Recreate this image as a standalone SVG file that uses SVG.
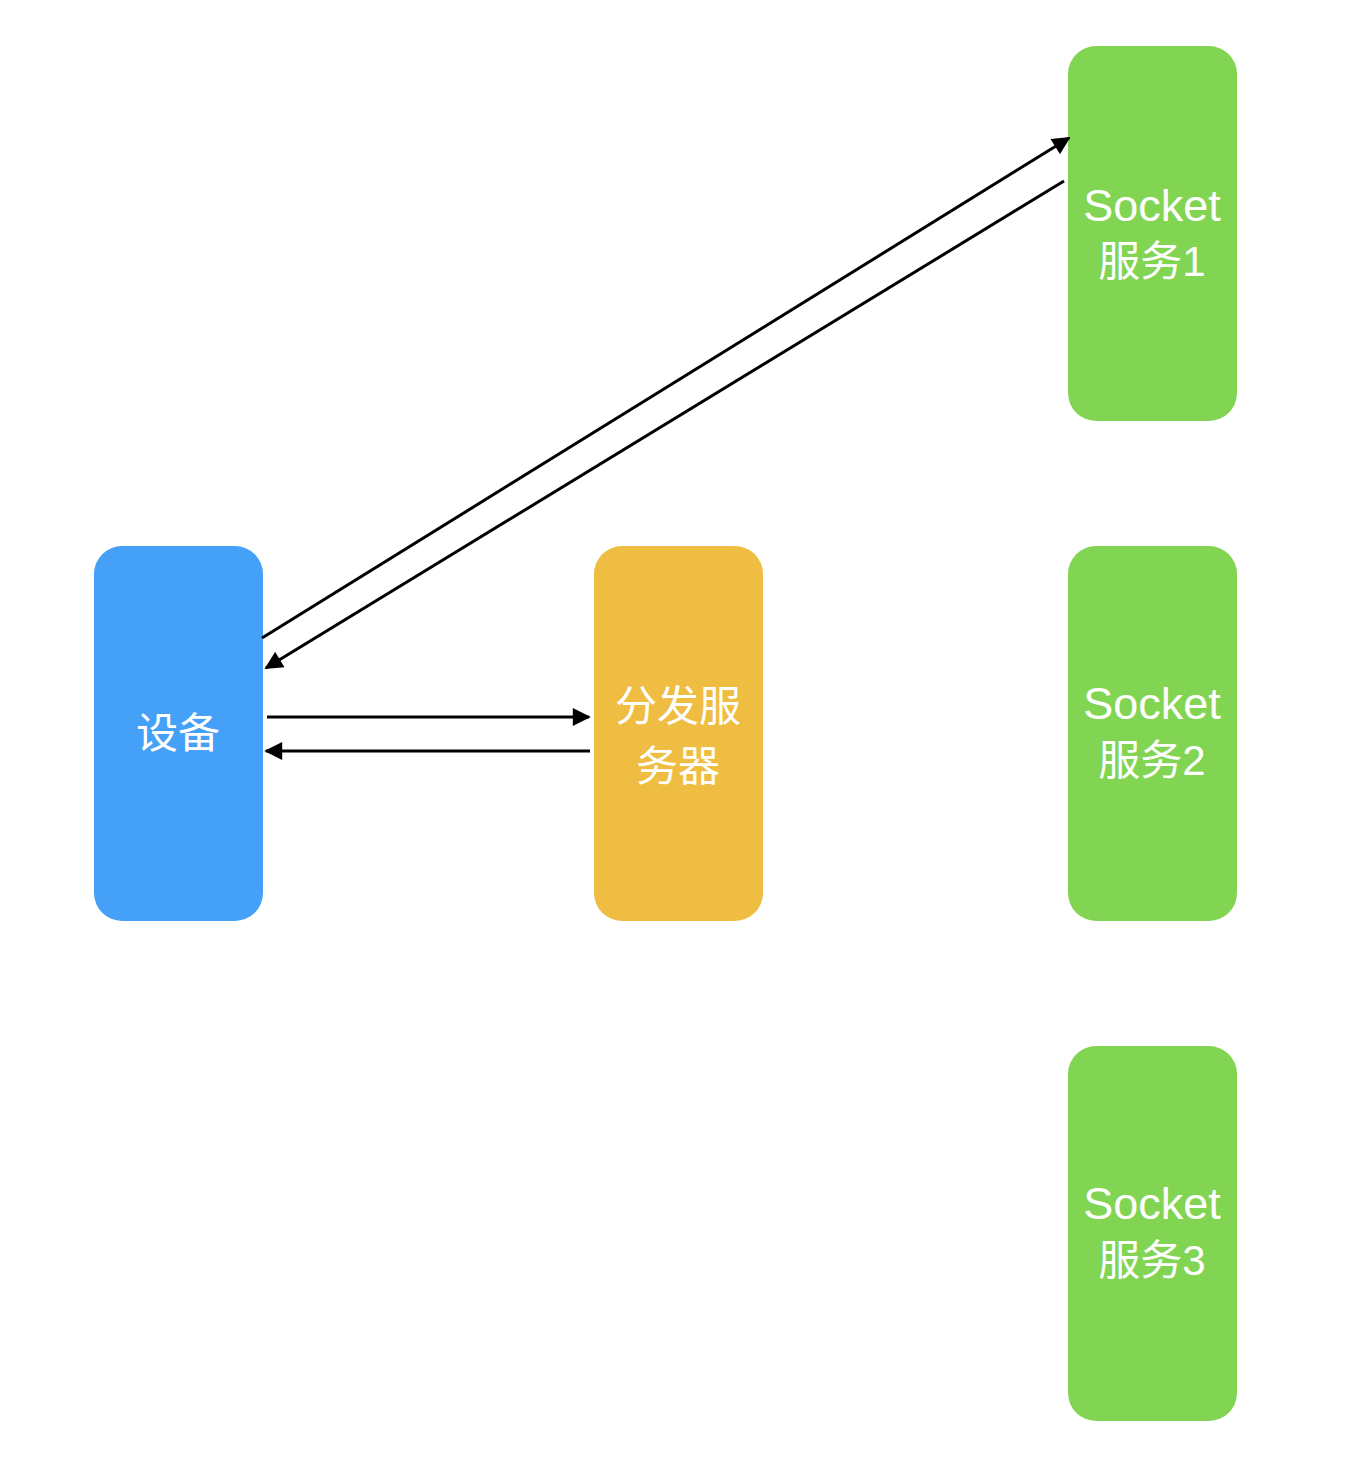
<svg xmlns="http://www.w3.org/2000/svg" width="1352" height="1472" viewBox="0 0 1352 1472">
<style>
.t{fill:#fff;font-family:"Helvetica","Liberation Sans","Noto Sans CJK SC",sans-serif;font-size:42px;text-anchor:middle}
.s{font-size:45px}
.c{stroke:#000;stroke-width:3;fill:none;marker-end:url(#ah)}
</style>
<defs>
<marker id="ah" viewBox="0 0 10 10" refX="9" refY="5" markerWidth="6.5" markerHeight="6" markerUnits="strokeWidth" orient="auto">
<path d="M0,0L10,5L0,10z" fill="#000"/>
</marker>
</defs>
<rect width="1352" height="1472" fill="#fff"/>
<g id="device"><rect x="94" y="546" width="169" height="375" rx="28" fill="#45A0F8"/><text class="t" x="178" y="748">设备</text></g>
<g id="dispatcher"><rect x="594" y="546" width="169" height="375" rx="28" fill="#EEBD42"/><text class="t" x="678" y="721">分发服</text><text class="t" x="678" y="781">务器</text></g>
<g id="socket1"><rect x="1068" y="46" width="169" height="375" rx="28" fill="#81D552"/><text class="t s" x="1152" y="221">Socket</text><text class="t" x="1152" y="276">服务1</text></g>
<g id="socket2"><rect x="1068" y="546" width="169" height="375" rx="28" fill="#81D552"/><text class="t s" x="1152" y="719">Socket</text><text class="t" x="1152" y="775">服务2</text></g>
<g id="socket3"><rect x="1068" y="1046" width="169" height="375" rx="28" fill="#81D552"/><text class="t s" x="1152" y="1219">Socket</text><text class="t" x="1152" y="1275">服务3</text></g>
<g id="connectors">
<line class="c" x1="262" y1="638" x2="1069" y2="138"/>
<line class="c" x1="1064" y1="181" x2="266" y2="668"/>
<line class="c" x1="267" y1="717" x2="589" y2="717"/>
<line class="c" x1="590" y1="751" x2="266" y2="751"/>
</g>
</svg>
